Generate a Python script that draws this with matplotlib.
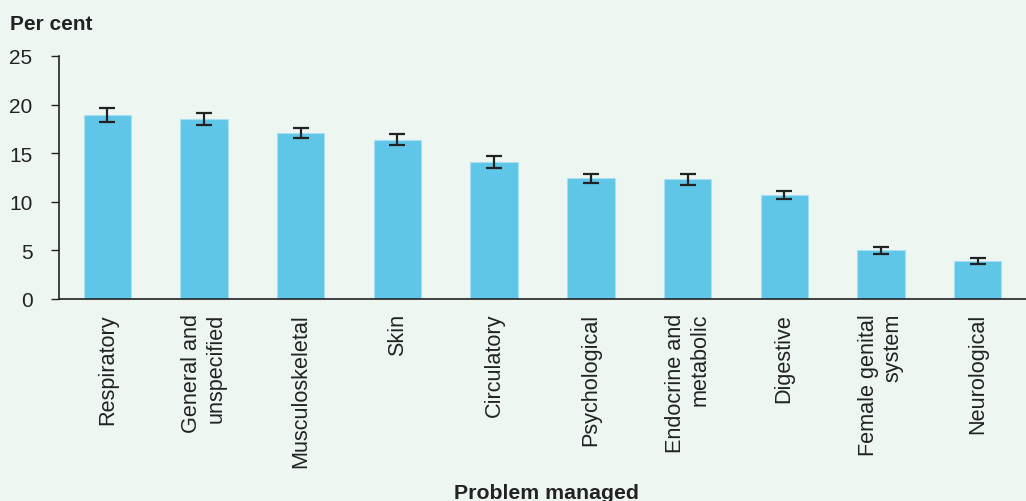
import matplotlib
matplotlib.use("Agg")
import matplotlib.pyplot as plt

plt.rcParams['font.family'] = ['Liberation Sans', 'DejaVu Sans']

# Problems managed and share of encounters (per cent) with 95% CI half-widths
problems = ['Respiratory', 'General and\nunspecified', 'Musculoskeletal', 'Skin',
            'Circulatory', 'Psychological', 'Endocrine and\nmetabolic', 'Digestive',
            'Female genital\nsystem', 'Neurological']
per_cent = [18.9, 18.5, 17.1, 16.4, 14.1, 12.4, 12.3, 10.7, 5.0, 3.9]
ci = [0.7, 0.65, 0.5, 0.55, 0.6, 0.5, 0.6, 0.4, 0.4, 0.3]

bg = '#eef6f2'
bar_color = '#5fc6e8'

fig = plt.figure(figsize=(10.26, 5.02), dpi=100, facecolor=bg)
ax = fig.add_axes([0.0575, 0.4024, 0.9425, 0.4841], facecolor=bg)

x = range(len(problems))
ax.bar(x, per_cent, width=0.49, color=bar_color, edgecolor='#a8e0f2', linewidth=0.8, zorder=2)
ax.errorbar(x, per_cent, yerr=ci, fmt='none', ecolor='#222222', elinewidth=1.6,
            capsize=5.5, capthick=1.6, zorder=3)

ax.set_xlim(-0.5, len(problems) - 0.5)
ax.set_ylim(0, 25)
ax.set_yticks([0, 5, 10, 15, 20, 25])
ax.set_xticks(list(x))
ax.set_xticklabels(problems, rotation=90, ha='center', va='top', multialignment='right')

for s in ['top', 'right']:
    ax.spines[s].set_visible(False)
for s in ['left', 'bottom']:
    ax.spines[s].set_color('#222222')
    ax.spines[s].set_linewidth(1.2)

ax.tick_params(axis='y', labelsize=15, length=6, width=1.0, color='#222222', labelcolor='#222222', pad=13)
ax.tick_params(axis='x', labelsize=15.6, length=0, pad=10, labelcolor='#222222')

fig.text(0.0097, 0.970, 'Per cent', fontsize=15, fontweight='bold', color='#222222', ha='left', va='top')
fig.text(0.533, 0.016, 'Problem managed', fontsize=15.3, fontweight='bold', color='#222222', ha='center', va='center')

fig.savefig('out.png', dpi=100, facecolor=bg)
